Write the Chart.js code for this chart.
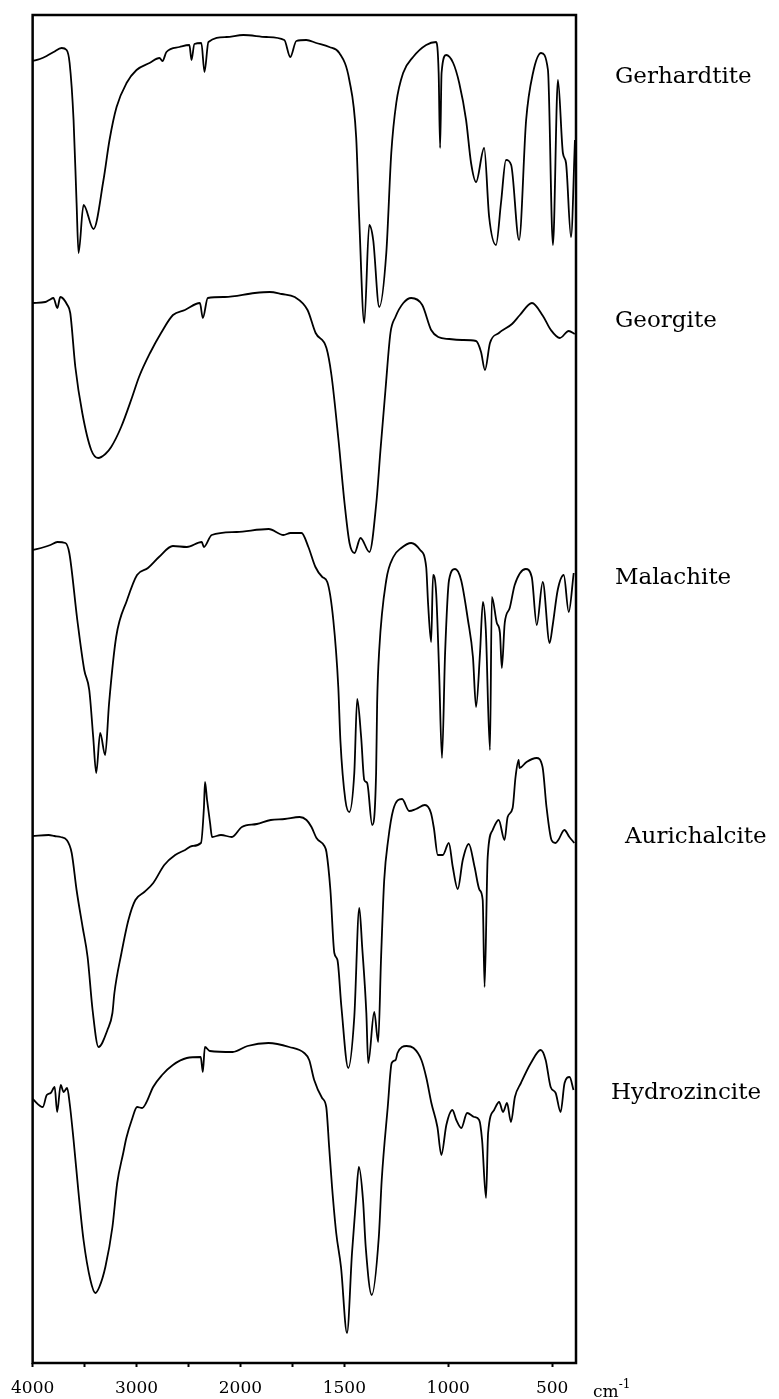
<!DOCTYPE html>
<html>
<head>
<meta charset="utf-8">
<script src="https://cdn.jsdelivr.net/npm/chart.js@4.4.1/dist/chart.umd.min.js"></script>
<style>
html,body{margin:0;padding:0;background:#fff;}
#wrap{position:relative;width:779px;height:1399px;overflow:hidden;background:#fff;}
#c{position:absolute;left:0;top:0;}
.lbl{position:absolute;font-family:"DejaVu Serif",serif;font-size:23px;line-height:23px;color:#000;white-space:nowrap;}
.unit{position:absolute;font-family:"DejaVu Serif",serif;font-size:17px;line-height:17px;color:#000;white-space:nowrap;}
.unit sup{font-size:12px;position:relative;top:-2px;}
</style>
</head>
<body>
<div id="wrap">
<canvas id="c" width="779" height="1399"></canvas>
</div>
<script>
// ---- data: [wavenumber (cm-1), offset transmittance (arbitrary units)] ----
const gerhardtite = [[4000,1302],[3930,1304],[3865,1307],[3798,1311],[3721,1315],[3673,1313],[3644,1300],[3606,1243],[3577,1160],[3558,1110],[3510,1158],[3414,1134],[3318,1183],[3260,1223],[3192,1256],[3096,1280],[3000,1293],[2875,1300],[2779,1305],[2750,1302],[2712,1311],[2587,1316],[2491,1318],[2471,1303],[2443,1319],[2376,1320],[2346,1291],[2308,1321],[2135,1326],[1986,1328],[1875,1326],[1789,1323],[1760,1306],[1731,1322],[1683,1323],[1635,1320],[1572,1316],[1524,1310],[1476,1283],[1443,1226],[1428,1143],[1404,1040],[1380,1138],[1361,1123],[1332,1056],[1298,1110],[1274,1210],[1250,1260],[1217,1290],[1169,1306],[1106,1318],[1058,1321],[1046,1290],[1039,1215],[1032,1290],[1010,1308],[976,1300],[947,1280],[914,1243],[890,1200],[866,1181],[827,1215],[803,1146],[770,1118],[746,1160],[722,1203],[697,1198],[659,1123],[625,1243],[592,1290],[553,1310],[520,1293],[496,1118],[472,1283],[448,1210],[433,1200],[409,1126],[390,1223]];

const georgite = [[4000,1060],[3878,1061],[3840,1063],[3800,1065],[3762,1055],[3734,1066],[3666,1058],[3638,1050],[3589,996],[3522,950],[3436,913],[3369,905],[3300,909],[3244,916],[3148,936],[3042,966],[2976,986],[2870,1010],[2764,1030],[2649,1048],[2534,1053],[2390,1060],[2362,1045],[2314,1065],[2150,1066],[1931,1070],[1859,1071],[1801,1069],[1739,1066],[1677,1053],[1638,1030],[1586,1015],[1562,988],[1528,923],[1499,860],[1475,820],[1451,810],[1422,825],[1379,811],[1346,860],[1326,913],[1302,973],[1278,1030],[1254,1046],[1216,1060],[1178,1065],[1125,1058],[1082,1033],[1048,1026],[995,1024],[933,1023],[866,1022],[842,1011],[823,993],[799,1020],[756,1030],[693,1039],[655,1048],[597,1060],[544,1047],[506,1033],[463,1025],[420,1032],[391,1029]];

const malachite = [[4000,813],[3887,816],[3829,818],[3762,821],[3685,820],[3647,810],[3570,743],[3503,693],[3455,673],[3417,626],[3388,590],[3350,630],[3302,608],[3264,660],[3196,726],[3091,763],[2995,788],[2890,795],[2784,806],[2650,817],[2516,816],[2372,821],[2352,816],[2276,828],[2036,831],[1864,834],[1793,828],[1759,830],[1706,830],[1673,816],[1639,796],[1606,786],[1582,781],[1553,743],[1529,676],[1519,623],[1495,563],[1476,551],[1452,590],[1438,664],[1419,626],[1404,583],[1390,580],[1366,538],[1347,590],[1342,660],[1332,713],[1298,783],[1264,806],[1226,815],[1178,820],[1135,813],[1106,796],[1097,760],[1082,721],[1073,788],[1058,770],[1044,693],[1030,605],[1015,710],[996,783],[967,794],[938,783],[905,743],[881,706],[866,656],[847,710],[833,761],[819,733],[799,613],[790,766],[766,740],[751,730],[742,695],[728,740],[704,755],[680,778],[627,794],[598,786],[574,738],[545,781],[512,720],[497,738],[473,773],[444,788],[420,751],[396,790]];

const aurichalcite = [[4000,527],[3845,528],[3790,527],[3730,526],[3672,523],[3624,510],[3577,473],[3519,436],[3471,406],[3423,353],[3366,316],[3280,333],[3232,350],[3213,370],[3145,410],[3078,443],[3011,463],[2925,471],[2839,480],[2733,498],[2628,508],[2532,513],[2465,517],[2380,520],[2351,556],[2341,581],[2321,563],[2292,540],[2273,526],[2187,528],[2082,526],[1993,536],[1921,539],[1854,543],[1787,544],[1715,546],[1682,543],[1658,536],[1634,525],[1596,517],[1586,511],[1567,473],[1548,410],[1533,403],[1514,356],[1481,295],[1452,346],[1428,455],[1414,416],[1394,350],[1385,300],[1356,351],[1337,321],[1323,406],[1308,483],[1289,523],[1265,553],[1222,564],[1188,552],[1155,554],[1112,558],[1083,550],[1069,535],[1050,508],[1026,508],[997,520],[978,496],[954,474],[930,503],[901,519],[873,496],[849,473],[834,463],[825,376],[810,506],[786,533],[757,543],[729,523],[714,546],[690,555],[676,586],[661,603],[657,595],[623,601],[575,605],[546,596],[527,556],[503,523],[484,520],[470,523],[441,533],[417,526],[393,520]];

const hydrozincite = [[4000,264],[3902,256],[3864,268],[3826,270],[3788,276],[3764,251],[3730,278],[3702,271],[3668,275],[3644,260],[3606,223],[3558,170],[3510,123],[3444,83],[3396,70],[3358,76],[3300,96],[3232,136],[3186,180],[3128,210],[3098,225],[3046,243],[2994,256],[2946,255],[2908,260],[2840,276],[2754,288],[2650,298],[2516,305],[2382,306],[2362,291],[2342,316],[2294,312],[2074,311],[1966,317],[1865,320],[1765,316],[1693,310],[1669,303],[1645,283],[1607,265],[1587,256],[1573,216],[1559,176],[1539,130],[1516,96],[1487,30],[1463,110],[1444,163],[1430,196],[1410,163],[1397,116],[1368,68],[1334,126],[1320,183],[1291,256],[1272,300],[1253,303],[1244,310],[1201,317],[1167,315],[1129,303],[1105,285],[1081,260],[1052,236],[1033,208],[1009,238],[980,253],[961,243],[937,235],[909,250],[875,246],[851,243],[837,223],[818,165],[808,230],[779,253],[755,261],[736,251],[717,260],[698,241],[679,266],[650,280],[602,300],[555,313],[531,303],[507,276],[483,270],[459,251],[440,280],[416,286],[397,273]];

const seriesNames = ['Gerhardtite','Georgite','Malachite','Aurichalcite','Hydrozincite'];
const seriesData = [gerhardtite, georgite, malachite, aurichalcite, hydrozincite];
const tickValues = [4000,3500,3000,2500,2000,1750,1500,1000,500];
const tickLabels = [4000,3000,2000,1500,1000,500];
const axisMin = 385, axisMax = 4000, scaleBreak = 2000;

// ---- layout (kept apart from data) ----
const labelPos = [[615,83],[615,327],[615,584],[625,843],[611,1099]]; // left, baseline

// wavenumber axis with scale change at 2000 cm-1 (low region expanded 2x)
function toU(w){ return w >= scaleBreak ? (axisMax - w) / 2 : (axisMax - scaleBreak) / 2 + (scaleBreak - w); }
class SplitAxis extends Chart.LinearScale {
  getPixelForValue(value){
    if (value === null || value === undefined || isNaN(value)) return NaN;
    const d = (toU(value) - toU(this.max)) / (toU(this.min) - toU(this.max));
    return this.left + d * this.width;
  }
  getValueForPixel(pixel){
    const u = (pixel - this.left) / this.width * toU(this.min);
    const ub = toU(scaleBreak);
    return u <= ub ? axisMax - 2 * u : scaleBreak - (u - ub);
  }
}
SplitAxis.id = 'splitAxis';
SplitAxis.defaults = Chart.LinearScale.defaults;
Chart.register(SplitAxis);

const framePlugin = {
  id: 'frame',
  afterDatasetsDraw(chart){
    const a = chart.chartArea, ctx = chart.ctx;
    ctx.save();
    ctx.strokeStyle = '#000';
    ctx.lineWidth = 2.5;
    ctx.strokeRect(a.left, a.top, a.right - a.left, a.bottom - a.top);
    ctx.restore();
  }
};

new Chart(document.getElementById('c'), {
  type: 'line',
  data: {
    datasets: seriesData.map((s, i) => ({
      label: seriesNames[i],
      data: s.map(([w, t]) => ({x: w, y: t})),
      borderColor: '#000',
      borderWidth: 1.8,
      pointRadius: 0,
      fill: false,
      cubicInterpolationMode: 'monotone'
    }))
  },
  options: {
    responsive: false,
    animation: false,
    devicePixelRatio: 1,
    events: [],
    layout: {padding: {left: 30, right: 203, top: 15, bottom: 0}},
    plugins: {legend: {display: false}, tooltip: {enabled: false}},
    scales: {
      x: {
        type: 'splitAxis',
        min: axisMin,
        max: axisMax,
        afterBuildTicks: (scale) => { scale.ticks = tickValues.map(v => ({value: v})); },
        afterFit: (scale) => { scale.height = 36; },
        border: {display: false},
        grid: {display: true, drawOnChartArea: false, drawTicks: true, tickLength: 4, tickWidth: 2, tickColor: '#000'},
        ticks: {
          autoSkip: false, maxRotation: 0, minRotation: 0, padding: 11,
          color: '#000',
          font: {family: '"DejaVu Serif", serif', size: 17},
          callback: (v) => tickLabels.includes(v) ? String(v) : ''
        }
      },
      y: {type: 'linear', min: 0, max: 1348, display: false}
    }
  },
  plugins: [framePlugin]
});

// series names as real text
const wrap = document.getElementById('wrap');
seriesNames.forEach((n, i) => {
  const d = document.createElement('div');
  d.className = 'lbl';
  d.textContent = n;
  d.style.left = labelPos[i][0] + 'px';
  d.style.top = (labelPos[i][1] - 19.5) + 'px';
  wrap.appendChild(d);
});
const u = document.createElement('div');
u.className = 'unit';
u.innerHTML = 'cm<sup>-1</sup>';
u.style.left = '593px';
u.style.top = '1378px';
wrap.appendChild(u);
</script>
</body>
</html>
